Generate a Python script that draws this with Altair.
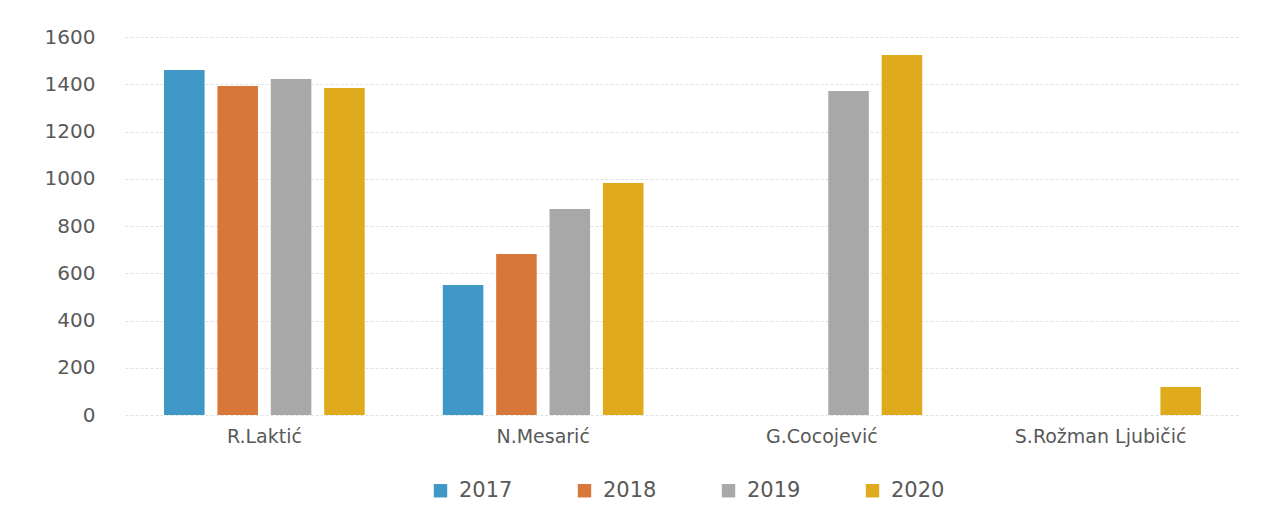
import altair as alt
import pandas as pd

names = ["R.Laktić", "N.Mesarić", "G.Cocojević", "S.Rožman Ljubičić"]
years = ["2017", "2018", "2019", "2020"]
v2017 = [1460, 550, None, None]
v2018 = [1393, 681, None, None]
v2019 = [1422, 872, 1371, None]
v2020 = [1384, 982, 1524, 118]
colors = ["#3f98c6", "#d7783a", "#a8a8a8", "#dfab1c"]

rows = []
for i, n in enumerate(names):
    for y, vals in zip(years, [v2017, v2018, v2019, v2020]):
        if vals[i] is not None:
            rows.append({"name": n, "year": y, "value": vals[i]})
df = pd.DataFrame(rows)

font = "DejaVu Sans"
chart = alt.Chart(df).mark_bar().encode(
    x=alt.X("name:N", sort=names, title=None,
            scale=alt.Scale(paddingInner=0.28, paddingOuter=0.14),
            axis=alt.Axis(labelAngle=0, labelFontSize=19, labelColor="#595959",
                          labelFont=font, ticks=False, domain=False, grid=False, labelPadding=12)),
    xOffset=alt.XOffset("year:N", sort=years, scale=alt.Scale(domain=years, paddingInner=0.24)),
    y=alt.Y("value:Q", title=None,
            scale=alt.Scale(domain=[0, 1600]),
            axis=alt.Axis(values=list(range(0, 1601, 200)), format="d", labelFontSize=20,
                          labelColor="#595959", labelFont=font, ticks=False, domain=False,
                          labelPadding=30, grid=True, gridColor="#e2e2e2", gridDash=[3, 2])),
    color=alt.Color("year:N", sort=years,
                    scale=alt.Scale(domain=years, range=colors),
                    legend=alt.Legend(title=None, orient="none", direction="horizontal",
                                      legendX=305, legendY=65 + 378, symbolType="square",
                                      symbolSize=180, symbolStrokeWidth=0, labelFontSize=21,
                                      labelFont=font, labelColor="#595959", columnPadding=61,
                                      labelOffset=8)),
).properties(
    width=1115, height=378,
    background="white",
    autosize=alt.AutoSizeParams(type="none"),
    padding={"left": 117, "top": 29, "right": 20, "bottom": 96},
).configure_view(strokeWidth=0)

chart.save("out.html", embed_options={"renderer": "svg", "actions": False})
